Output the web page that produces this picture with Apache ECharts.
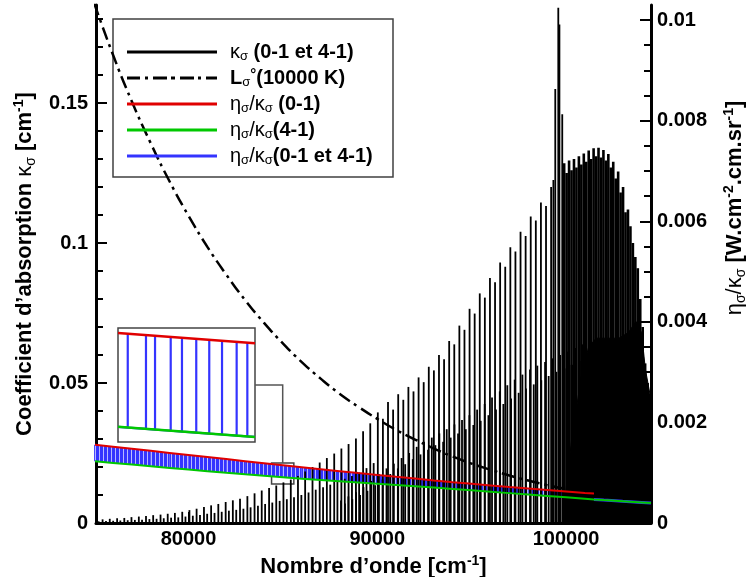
<!DOCTYPE html>
<html><head><meta charset="utf-8">
<script src="https://cdn.jsdelivr.net/npm/echarts@6/dist/echarts.min.js"></script>
<style>html,body{margin:0;padding:0;background:#fff}#c{width:749px;height:577px}</style>
</head><body><div id="c"></div>
<script>
// ---------------- values ----------------
const xTickValues = [80000, 90000, 100000];
const kappaTickValues = [0, 0.05, 0.1, 0.15];
const kappaMinorTicks = [0.01,0.02,0.03,0.04,0.06,0.07,0.08,0.09,0.11,0.12,0.13,0.14,0.16,0.17,0.18];
const etaTickValues = [0, 0.002, 0.004, 0.006, 0.008, 0.01];
const etaMinorTicks = [0.0005,0.001,0.0015,0.0025,0.003,0.0035,0.0045,0.005,0.0055,0.0065,0.007,0.0075,0.0085,0.009,0.0095];

// kappa_sigma lines of the 0-1 band (wavenumber cm-1, peak cm-1)
const sigma01 = [
75080,75260,75470,75650,75850,76030,76240,76410,76620,76800,
77000,77180,77390,77560,77770,77950,78150,78330,78540,78710,
78920,79100,79300,79480,79690,79860,80070,80250,80450,80630,
80840,81010,81220,81400,81600,81780,81990,82160,82370,82550,
82750,82930,83140,83310,83520,83700,83900,84080,84290,84460,
84670,84850,85050,85230,85440,85610,85820,86000,86200,86380,
86590,86760,86970,87150,87350,87530,87740,87910,88120,88300,
88500,88680,88890,89060,89270,89450,89650,89830,
90050,90320,90590,90860,91130,91400,91670,91940,92210,92480,
92750,93020,93290,93560,93830,94100,94370,94640,94910,95180,
95450,95720,95990,96260,96530,96800,97070,97340,97610,97880,
98150,98420,98690,98960,99230,99350,99450,99610,99670,99820,
99900,100030,100160,100290,100420,100550,100680,100810,100940,101070,
101200,101330,101460,101590,101720,101850,101980,102110,102240,102370,
102500,102630,102760,102890,103020,103150,103280,103410,103540,103670,
103800,103930,104060,104190,104320,104450];
const kappa01 = [
.0012,.0006,.0013,.0007,.0015,.0008,.0017,.0009,.0018,.0010,
.0021,.0011,.0023,.0012,.0025,.0014,.0028,.0015,.0030,.0017,
.0033,.0019,.0036,.0020,.0040,.0023,.0046,.0026,.0051,.0029,
.0057,.0033,.0063,.0036,.0068,.0040,.0075,.0044,.0081,.0047,
.0087,.0051,.0096,.0056,.0106,.0062,.0116,.0068,.0125,.0073,
.0134,.0079,.0145,.0085,.0155,.0092,.0168,.0100,.0184,.0109,
.0200,.0119,.0216,.0128,.0232,.0137,.0248,.0147,.0266,.0158,
.0282,.0168,.0302,.0180,.0328,.0196,.0356,.0214,
.0395,.0372,.0432,.0405,.0460,.0440,.0486,.0470,.0520,.0503,
.0558,.0545,.0600,.0585,.0650,.0638,.0705,.0690,.0765,.0748,
.0820,.0805,.0875,.0860,.0930,.0915,.0985,.0970,.1040,.1025,
.1095,.1080,.1145,.1132,.1200,.1225,.1550,.1840,.1780,.1460,
.1285,.1250,.1295,.1260,.1300,.1270,.1310,.1280,.1320,.1290,
.1330,.1300,.1338,.1310,.1340,.1305,.1332,.1295,.1318,.1270,
.1290,.1230,.1255,.1180,.1200,.1110,.1120,.1060,.1000,.0950,
.0910,.0800,.0700,.0570,.0500,.0450];

// kappa_sigma lines of the 4-1 band
const sigma41 = [
88100,88310,88490,88700,88900,89110,89290,89500,89700,89910,
90110,90300,90510,90710,90900,91110,91310,91500,91710,91900,
92110,92310,92500,92710,92910,93100,93310,93510,93700,93910,
94110,94300,94510,94710,94900,95110,95310,95500,95710,95910,
96100,96310,96510,96700,96910,97110,97300,97510,97710,97900,
98110,98310,98500,98710,98910,99100,99310,99510,99710,99900,
100110,100310,100500,100710,100910,101110];
const kappa41 = [
.0080,.0070,.0095,.0085,.0110,.0100,.0128,.0115,.0150,.0135,
.0175,.0155,.0195,.0175,.0212,.0195,.0232,.0210,.0250,.0228,
.0272,.0245,.0290,.0262,.0305,.0278,.0320,.0290,.0335,.0305,
.0352,.0320,.0368,.0335,.0385,.0350,.0405,.0365,.0425,.0385,
.0448,.0405,.0470,.0425,.0492,.0445,.0512,.0465,.0530,.0480,
.0548,.0495,.0562,.0510,.0575,.0525,.0588,.0540,.0600,.0552,
.0612,.0565,.0625,.0578,.0638,.0590];

// merged line wings near the band head (solid black floor)
const floorSigma = [99800,100300,100800,101200,101600,102200,102800,103300,103700,104000,104200,104500];
const floorKappa = [0,0.030,0.052,0.063,0.066,0.066,0.066,0.068,0.072,0.068,0.055,0.044];

// L°sigma (10000 K), W.cm-2.cm.sr-1
const planckSigma = [75000,76000,77000,78000,79000,80000,81000,82000,83000,84000,85000,86000,87000,88000,89000,90000,
  91000,92000,93000,94000,95000,96000,97000,98000,99000,100000,101000,102000,103000,104000,104500];
const planckL = [0.01034,0.00931,0.00838,0.00755,0.00679,0.00611,0.00549,0.00494,0.00443,0.00398,0.00357,0.00320,0.00287,0.00257,0.00231,0.00207,
  0.00185,0.00166,0.00148,0.00132,0.00118,0.00106,0.000945,0.000844,0.000753,0.000672,0.000600,0.000535,0.000477,0.000425,0.000402];

// eta/kappa curves
const etaSigma = [75000,76000,77000,78000,79000,80000,81000,82000,83000,84000,85000,86000,87000,88000,89000,90000,
  91000,92000,93000,94000,95000,96000,97000,98000,99000,100000,101000,101480,101500,102000,103000,104000,104500];
const eta01 = [0.001558,0.001517,0.001476,0.001435,0.001394,0.001353,0.001312,0.001271,0.001230,0.001190,0.001150,0.001110,0.001070,0.001031,0.000993,0.000956,
  0.000920,0.000885,0.000845,0.000812,0.000780,0.000748,0.000715,0.000684,0.000654,0.000625,0.000597,0.000585];
const eta41 = [0.001228,0.001195,0.001162,0.001129,0.001096,0.001063,0.001031,0.000999,0.000968,0.000938,0.000909,0.000881,0.000854,0.000828,0.000803,0.000779,
  0.000756,0.000733,0.000706,0.000678,0.000650,0.000622,0.000594,0.000566,0.000538,0.000510,0.000482,0.000468,0.000467,0.000455,0.000432,0.000410,0.000398];

// zoom window marked on the main plot, and the inset contents
const zoomSigma = [84400, 85580];
const zoomEta = [0.000776, 0.001194];
const insetEtaRange = [0.000915, 0.001186];
const insetSigma = [84400, 85580];
const insetRed = [0.001174, 0.001150];
const insetGreen = [0.000951, 0.000927];
const insetSpikeSigma = [84484,84641,84719,84854,84951,85074,85186,85296,85422,85514];
const insetSpikeTop = [0.0011723,0.0011691,0.0011675,0.0011648,0.0011628,0.0011603,0.0011580,0.0011558,0.0011532,0.0011513];
const insetSpikeBase = [0.0009493,0.0009461,0.0009445,0.0009418,0.0009398,0.0009373,0.0009350,0.0009328,0.0009302,0.0009283];

// ---------------- chart ----------------
const F = "'Liberation Sans', Arial, Helvetica, sans-serif";
const N1 = 'κσ (0-1 et 4-1)', N2 = 'L°σ(10000 K)', N3 = 'ησ/κσ (0-1)', N4 = 'ησ/κσ(4-1)', N5 = 'ησ/κσ(0-1 et 4-1)';
const RED = '#e00000', GREEN = '#00c800', BLUE = '#3434ff';
const HEAD = 99880; // lines beyond this are drawn with the broader (overlapping) profile

// striped fill for the dense blue eta/kappa band (many narrow lines)
const stripe = document.createElement('canvas');
stripe.width = 4; stripe.height = 4;
const sctx = stripe.getContext('2d');
sctx.fillStyle = BLUE; sctx.fillRect(0, 0, 3, 4);
sctx.fillStyle = '#b8b8ff'; sctx.fillRect(3, 0, 1, 4);

const pairs = (xs, ys) => xs.map((x, i) => [x, ys[i]]);
const allLines = pairs(sigma01, kappa01).concat(pairs(sigma41, kappa41));
const linesMain = allLines.filter(p => p[0] < HEAD);
const linesHead = allLines.filter(p => p[0] >= HEAD);
const redData = eta01.map((v, i) => [etaSigma[i], v]);
const bandEnd = eta01.length - 1;
const bandQuads = [];
for (let i = 0; i < bandEnd; i++) {
  bandQuads.push([etaSigma[i], eta01[i], eta41[i], etaSigma[i + 1], eta01[i + 1], eta41[i + 1]]);
}
const blueTail = pairs(etaSigma.slice(bandEnd), eta41.slice(bandEnd));
const insetBlue = [[insetSigma[0], insetGreen[0]]];
insetSpikeSigma.forEach((s, i) => {
  insetBlue.push([s, insetSpikeBase[i]], [s, insetSpikeTop[i]], [s, insetSpikeBase[i]]);
});
insetBlue.push([insetSigma[1], insetGreen[1]]);

const richTitle = {
  b: {fontFamily: F, fontSize: 22, fontWeight: 'bold', color: '#000', lineHeight: 26},
  g: {fontFamily: F, fontSize: 22, fontWeight: 'normal', color: '#000', lineHeight: 26},
  s: {fontFamily: F, fontSize: 14, color: '#000', lineHeight: 14, verticalAlign: 'bottom'},
  p: {fontFamily: F, fontSize: 14, fontWeight: 'bold', color: '#000', lineHeight: 18, verticalAlign: 'top'}
};
const richLegend = {
  b: {fontFamily: F, fontSize: 20, fontWeight: 'bold', color: '#000', lineHeight: 22},
  g: {fontFamily: F, fontSize: 20, fontWeight: 'normal', color: '#000', lineHeight: 22},
  s: {fontFamily: F, fontSize: 13, color: '#000', lineHeight: 8, verticalAlign: 'bottom'},
  p: {fontFamily: F, fontSize: 15, fontWeight: 'bold', color: '#000', lineHeight: 14, verticalAlign: 'top'}
};
const legendText = {};
legendText[N1] = '{g|κ}{s|σ}{b| (0-1 et 4-1)}';
legendText[N2] = '{b|L}{s|σ}{p|°}{b|(10000 K)}';
legendText[N3] = '{g|η}{s|σ}{g|/κ}{s|σ}{b| (0-1)}';
legendText[N4] = '{g|η}{s|σ}{g|/κ}{s|σ}{b|(4-1)}';
legendText[N5] = '{g|η}{s|σ}{g|/κ}{s|σ}{b|(0-1 et 4-1)}';
const SOLID = 'path://M0,0h90v3h-90z';
const DASHDOT = 'path://M0,0h13v3h-13z M18,0h3v3h-3z M26,0h14v3h-14z M44,0h4v3h-4z M53,0h14v3h-14z M71,0h3v3h-3z M79,0h11v3h-11z';

const labelStyle = {color: '#000', fontSize: 20, fontWeight: 'bold', fontFamily: F, formatter: v => String(v)};
const axisLineStyle = {show: true, onZero: false, lineStyle: {color: '#000', width: 3}};
const tickLine = {color: '#000', width: 2};

const chart = echarts.init(document.getElementById('c'));
const option = {
  animation: false,
  backgroundColor: '#fff',
  textStyle: {fontFamily: F},
  grid: [
    {left: 96, right: 98, top: 5, bottom: 54, show: false, containLabel: false, outerBoundsMode: 'none'},
    {left: 118, top: 328, width: 137, height: 114, show: true, backgroundColor: '#fff', borderColor: '#444', borderWidth: 1.5,
     containLabel: false, outerBoundsMode: 'none'}
  ],
  xAxis: [
    {gridIndex: 0, type: 'value', min: 75100, max: 104500,
     axisLine: axisLineStyle,
     axisTick: {show: true, inside: true, length: 11, lineStyle: tickLine, customValues: xTickValues},
     axisLabel: Object.assign({customValues: xTickValues, margin: 6}, labelStyle),
     splitLine: {show: false},
     name: '{b|Nombre d’onde [cm}{p|-1}{b|]}', nameLocation: 'middle', nameGap: 23,
     nameTextStyle: {rich: richTitle}},
    {gridIndex: 1, type: 'value', min: insetSigma[0], max: insetSigma[1], show: false}
  ],
  yAxis: [
    {gridIndex: 0, type: 'value', position: 'left', min: 0, max: 0.185,
     axisLine: axisLineStyle,
     axisTick: {show: true, inside: true, length: 11, lineStyle: tickLine, customValues: kappaTickValues},
     axisLabel: Object.assign({customValues: kappaTickValues, margin: 8}, labelStyle),
     splitLine: {show: false},
     name: '{b|Coefficient d’absorption }{g|κ}{s|σ}{b| [cm}{p|-1}{b|]}',
     nameLocation: 'middle', nameRotate: 90, nameGap: 54, nameTextStyle: {rich: richTitle}},
    {gridIndex: 0, type: 'value', position: 'right', min: 0, max: 0.0103,
     axisLine: axisLineStyle,
     axisTick: {show: true, inside: true, length: 11, lineStyle: tickLine, customValues: etaTickValues},
     axisLabel: Object.assign({customValues: etaTickValues, margin: 6}, labelStyle),
     splitLine: {show: false},
     name: '{g|η}{s|σ}{g|/κ}{s|σ}{b| [W.cm}{p|-2}{b|.cm.sr}{p|-1}{b|]}',
     nameLocation: 'middle', nameRotate: 90, nameGap: 71,
     nameTextStyle: {rich: richTitle, padding: [0, 0, 0, 112]}},
    {gridIndex: 1, type: 'value', min: insetEtaRange[0], max: insetEtaRange[1], show: false},
    {gridIndex: 0, type: 'value', position: 'left', min: 0, max: 0.185,
     axisLine: {show: false}, axisLabel: {show: false}, splitLine: {show: false},
     axisTick: {show: true, inside: true, length: 7, lineStyle: tickLine, customValues: kappaMinorTicks}},
    {gridIndex: 0, type: 'value', position: 'right', min: 0, max: 0.0103,
     axisLine: {show: false}, axisLabel: {show: false}, splitLine: {show: false},
     axisTick: {show: true, inside: true, length: 7, lineStyle: tickLine, customValues: etaMinorTicks}}
  ],
  legend: {
    orient: 'vertical', left: 127, top: 41, padding: 0, itemGap: 4,
    itemWidth: 90, itemHeight: 3, selectedMode: false,
    itemStyle: {borderWidth: 0},
    data: [
      {name: N1, icon: SOLID, itemStyle: {color: '#000'}},
      {name: N2, icon: DASHDOT, itemStyle: {color: '#000'}},
      {name: N3, icon: SOLID, itemStyle: {color: RED}},
      {name: N4, icon: SOLID, itemStyle: {color: GREEN}},
      {name: N5, icon: SOLID, itemStyle: {color: BLUE}}
    ],
    formatter: name => legendText[name],
    textStyle: {color: '#000', fontFamily: F, fontSize: 20, lineHeight: 22, padding: [0, 0, 0, 8], rich: richLegend}
  },
  series: [
    {name: N1, type: 'line', xAxisIndex: 0, yAxisIndex: 0, data: pairs(floorSigma, floorKappa),
     symbol: 'none', color: '#000', lineStyle: {color: '#000', width: 1}, areaStyle: {color: '#000', opacity: 1}, silent: true},
    {name: N1, type: 'bar', xAxisIndex: 0, yAxisIndex: 0, data: linesMain, barWidth: 1.8, barGap: '-100%',
     itemStyle: {color: '#000'}, silent: true},
    {name: N1, type: 'bar', xAxisIndex: 0, yAxisIndex: 0, data: linesHead, barWidth: 2.6, barGap: '-100%',
     itemStyle: {color: '#000'}, silent: true},
    {name: N2, type: 'line', xAxisIndex: 0, yAxisIndex: 1, data: pairs(planckSigma, planckL), smooth: true,
     symbol: 'none', color: '#000', lineStyle: {color: '#000', width: 2.5, type: [13, 5, 3, 5]}, silent: true},
    {name: N5, type: 'custom', xAxisIndex: 0, yAxisIndex: 1, data: bandQuads, color: BLUE, silent: true,
     encode: {x: [0, 3], y: [1, 2, 4, 5]},
     renderItem: (params, api) => {
       const a = api.coord([api.value(0), api.value(1)]);
       const b = api.coord([api.value(3), api.value(4)]);
       const c = api.coord([api.value(3), api.value(5)]);
       const d = api.coord([api.value(0), api.value(2)]);
       return {type: 'polygon', shape: {points: [a, b, c, d]},
               style: {fill: {image: stripe, repeat: 'repeat'}, stroke: null}};
     }},
    {name: N5, type: 'line', xAxisIndex: 0, yAxisIndex: 1, data: blueTail,
     symbol: 'none', color: BLUE, lineStyle: {color: BLUE, width: 3}, silent: true},
    {name: N3, type: 'line', xAxisIndex: 0, yAxisIndex: 1, data: redData,
     symbol: 'none', color: RED, lineStyle: {color: RED, width: 2}, silent: true},
    {name: N4, type: 'line', xAxisIndex: 0, yAxisIndex: 1, data: pairs(etaSigma, eta41),
     symbol: 'none', color: GREEN, lineStyle: {color: GREEN, width: 2}, silent: true,
     markArea: {silent: true, label: {show: false},
       itemStyle: {color: 'rgba(0,0,0,0)', borderColor: '#444', borderWidth: 1.5},
       data: [[{coord: [zoomSigma[0], zoomEta[0]]}, {coord: [zoomSigma[1], zoomEta[1]]}]]}},
    {name: N5, type: 'line', xAxisIndex: 1, yAxisIndex: 2, data: insetBlue,
     symbol: 'none', color: BLUE, lineStyle: {color: BLUE, width: 2.2}, silent: true, z: 5},
    {name: N4, type: 'line', xAxisIndex: 1, yAxisIndex: 2, data: pairs(insetSigma, insetGreen),
     symbol: 'none', color: GREEN, lineStyle: {color: GREEN, width: 2.5}, silent: true, z: 5},
    {name: N3, type: 'line', xAxisIndex: 1, yAxisIndex: 2, data: pairs(insetSigma, insetRed),
     symbol: 'none', color: RED, lineStyle: {color: RED, width: 2.5}, silent: true, z: 5}
  ]
};
chart.setOption(option);

const boxTop = chart.convertToPixel({xAxisIndex: 0, yAxisIndex: 1}, [(zoomSigma[0] + zoomSigma[1]) / 2, zoomEta[1]]);
const insetMid = chart.convertToPixel({xAxisIndex: 1, yAxisIndex: 2}, [insetSigma[1], (insetEtaRange[0] + insetEtaRange[1]) / 2]);
chart.setOption({
  graphic: [
    {type: 'rect', z: 3, shape: {x: 113, y: 19, width: 280, height: 158},
     style: {fill: '#fff', stroke: '#404040', lineWidth: 1.5}},
    {type: 'polyline', z: 3, shape: {points: [insetMid, [boxTop[0], insetMid[1]], boxTop]},
     style: {fill: null, stroke: '#555', lineWidth: 1.5}}
  ]
});
</script>
</body></html>
